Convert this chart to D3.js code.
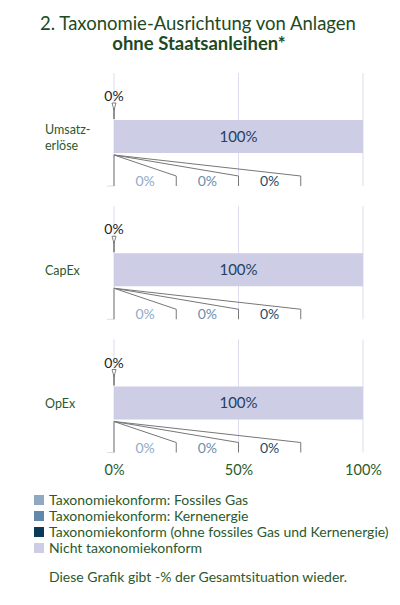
<!DOCTYPE html>
<html>
<head>
<meta charset="utf-8">
<script src="https://cdn.jsdelivr.net/npm/d3@7"></script>
<style>
  body { margin: 0; background: #fff; }
  svg { display: block; font-family: Lato, "Open Sans", sans-serif; }
</style>
</head>
<body>
<div id="chart"></div>
<script>
// chart data
const categories = ["Umsatzerlöse", "CapEx", "OpEx"];
const categoryLines = [["Umsatz-", "erlöse"], ["CapEx"], ["OpEx"]];
const alignedTotal = [0, 0, 0];
const fossilGas = [0, 0, 0];
const nuclear = [0, 0, 0];
const alignedOther = [0, 0, 0];
const notAligned = [100, 100, 100];
const xTicks = [0, 50, 100];
const legendLabels = [
    "Taxonomiekonform: Fossiles Gas",
    "Taxonomiekonform: Kernenergie",
    "Taxonomiekonform (ohne fossiles Gas und Kernenergie)",
    "Nicht taxonomiekonform"
];

const colors = ["#8fa9c4", "#6089ab", "#0b3a58", "#cdcde6"];
const labelColors = ["#8fabc8", "#6a8eae", "#1f4a68"];
const green = "#2a5a2c";

const width = 400, height = 605;
const barH = 33;

const svg = d3.select("#chart").append("svg")
    .attr("width", width)
    .attr("height", height);

// title
svg.append("text")
    .attr("x", 198).attr("y", 30)
    .attr("text-anchor", "middle")
    .attr("font-size", 18.5)
    .attr("fill", "#1d4a24")
    .text("2. Taxonomie-Ausrichtung von Anlagen");
svg.append("text")
    .attr("x", 199).attr("y", 50)
    .attr("text-anchor", "middle")
    .attr("font-size", 18.5)
    .attr("font-weight", "bold")
    .attr("fill", "#1d4a24")
    .text("ohne Staatsanleihen*");

const x = d3.scaleLinear().domain([0, 100]).range([114, 363]);
const y = d3.scalePoint().domain(categories).range([136.5, 403]);

categories.forEach(function (c, i) {
    const top = y(c) - barH / 2;
    const bottom = top + barH;
    const g = svg.append("g");

    // gridlines
    g.selectAll("line.grid")
        .data(xTicks)
        .enter().append("line")
        .attr("class", "grid")
        .attr("x1", d => x(d)).attr("x2", d => x(d))
        .attr("y1", top - 47).attr("y2", bottom + 33)
        .attr("stroke", "#dcdcee")
        .attr("stroke-width", 1);
    g.append("line")
        .attr("x1", x(0) - 7).attr("x2", x(0))
        .attr("y1", bottom + 33).attr("y2", bottom + 33)
        .attr("stroke", "#dcdcee");

    // not aligned bar
    g.append("rect")
        .attr("x", x(0))
        .attr("y", top)
        .attr("width", x(notAligned[i]) - x(0))
        .attr("height", barH)
        .attr("fill", colors[3]);
    g.append("text")
        .attr("x", x(notAligned[i] / 2))
        .attr("y", y(c) + 5)
        .attr("text-anchor", "middle")
        .attr("font-size", 15)
        .attr("fill", "#23425f")
        .text(notAligned[i] + "%");

    // aligned total marker
    const ax = x(alignedTotal[i]);
    g.append("line")
        .attr("x1", ax).attr("x2", ax)
        .attr("y1", top - 12).attr("y2", top - 1)
        .attr("stroke", "#555").attr("stroke-width", 1.2);
    g.append("path")
        .attr("d", "M" + (ax - 2) + "," + (top - 17) + "L" + (ax + 2) + "," + (top - 17) + "L" + ax + "," + (top - 10) + "Z")
        .attr("fill", "#fff")
        .attr("stroke", "#666")
        .attr("stroke-width", 0.8);
    g.append("text")
        .attr("x", ax)
        .attr("y", top - 19)
        .attr("text-anchor", "middle")
        .attr("font-size", 14)
        .attr("fill", "#222")
        .text(alignedTotal[i] + "%");

    // breakdown callout
    const parts = [fossilGas[i], nuclear[i], alignedOther[i]];
    const slots = [[0, 25], [25, 50], [50, 75]];
    g.append("line")
        .attr("x1", x(0)).attr("x2", x(0))
        .attr("y1", bottom + 2).attr("y2", bottom + 33)
        .attr("stroke", "#777").attr("stroke-width", 1);
    slots.forEach(function (s, j) {
        g.append("path")
            .attr("d", "M" + x(0) + "," + (bottom + 2) +
                "L" + x(s[1]) + "," + (bottom + 23) +
                "L" + x(s[1]) + "," + (bottom + 33))
            .attr("fill", "none")
            .attr("stroke", "#777")
            .attr("stroke-width", 1);
        g.append("text")
            .attr("x", x((s[0] + s[1]) / 2))
            .attr("y", bottom + 33)
            .attr("text-anchor", "middle")
            .attr("font-size", 14)
            .attr("fill", labelColors[j])
            .text(parts[j] + "%");
    });

    // category label, one text per line
    const lines = categoryLines[i];
    g.selectAll("text.cat")
        .data(lines)
        .enter().append("text")
        .attr("class", "cat")
        .attr("x", 45)
        .attr("y", (d, k) => y(c) + 5 - (lines.length - 1) * 8 + k * 16)
        .attr("font-size", 12.5)
        .attr("fill", green)
        .text(d => d);
});

// x axis labels
const axis = svg.append("g")
    .attr("transform", "translate(0,472)")
    .call(d3.axisBottom(x).tickValues(xTicks).tickSize(0).tickFormat(d => d + "%"));
axis.select(".domain").remove();
axis.selectAll("text")
    .attr("font-family", "Lato, sans-serif")
    .attr("font-size", 14.5)
    .attr("fill", green)
    .attr("dy", 0);

// legend
const legend = svg.append("g");
legendLabels.forEach(function (l, i) {
    const ly = 500 + i * 16;
    legend.append("rect")
        .attr("x", 34).attr("y", ly - 5)
        .attr("width", 10).attr("height", 10)
        .attr("fill", colors[i]);
    legend.append("text")
        .attr("x", 49).attr("y", ly + 5)
        .attr("font-size", 14)
        .attr("fill", green)
        .text(l);
});

svg.append("text")
    .attr("x", 49).attr("y", 582)
    .attr("font-size", 14)
    .attr("fill", green)
    .text("Diese Grafik gibt -% der Gesamtsituation wieder.");
</script>
</body>
</html>
